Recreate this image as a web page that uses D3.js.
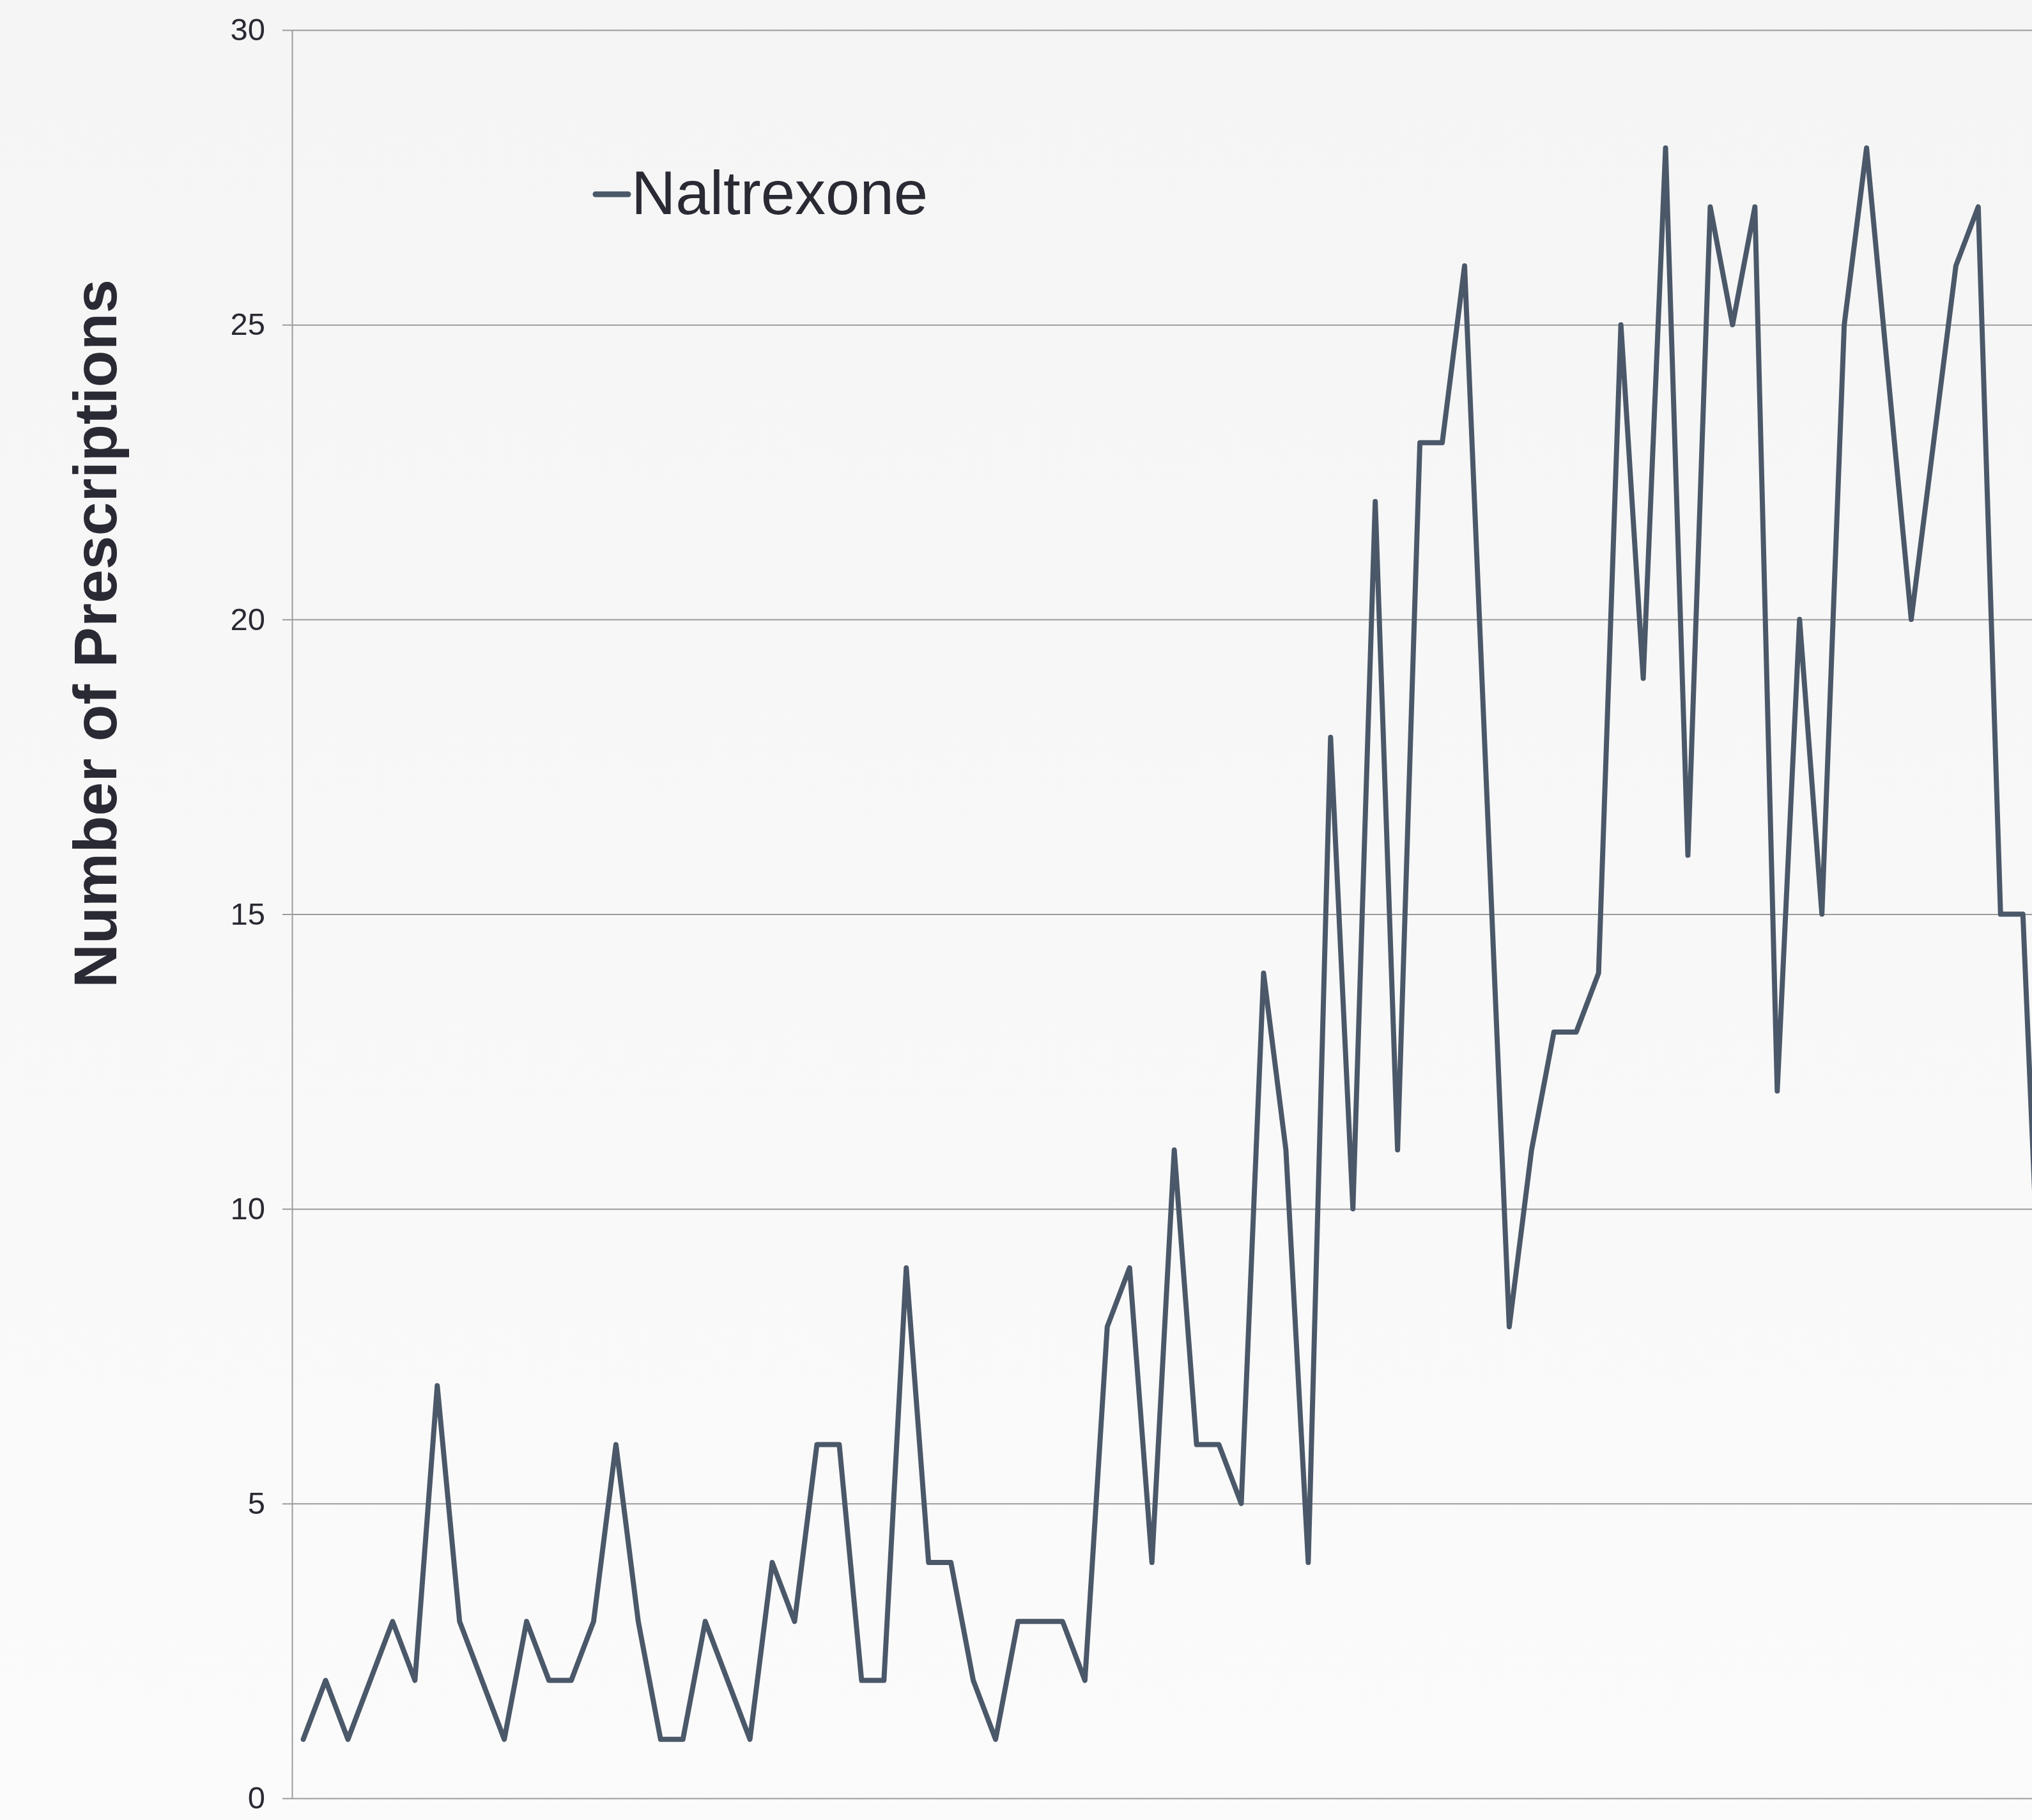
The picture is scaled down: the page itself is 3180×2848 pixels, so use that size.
<!DOCTYPE html>
<html>
<head>
<meta charset="utf-8">
<script src="https://cdn.jsdelivr.net/npm/d3@7"></script>
<style>
  html, body { margin: 0; padding: 0; }
  body { width: 3180px; height: 2848px; overflow: hidden; }
  svg { display: block; }
</style>
</head>
<body>
<svg id="chart" width="3180" height="2848"></svg>
<script>
// Monthly prescription counts for naltrexone, in order
const seriesName = "Naltrexone";
const prescriptions = [
  1, 2, 1, 2, 3, 2, 7, 3, 2, 1,
  3, 2, 2, 3, 6, 3, 1, 1, 3, 2,
  1, 4, 3, 6, 6, 2, 2, 9, 4, 4,
  2, 1, 3, 3, 3, 2, 8, 9, 4, 11,
  6, 6, 5, 14, 11, 4, 18, 10, 22, 11,
  23, 23, 26, 17, 8, 11, 13, 13, 14, 25,
  19, 28, 16, 27, 25, 27, 12, 20, 15, 25,
  28, 24, 20, 23, 26, 27, 15, 15, 6
];
const yTicks = [0, 5, 10, 15, 20, 25, 30];
const yTitle = "Number of Prescriptions";

const W = 3180, H = 2848;
const axisX = 457, plotTop = 47, plotBottom = 2814;
const firstX = 474.6, stepX = 34.95;
const lineColor = "#4b5869";
const textColor = "#292a33";
const gridColor = "#9b9b9b";

const svg = d3.select("#chart");

// soft vertical background wash
const defs = svg.append("defs");
const grad = defs.append("linearGradient")
  .attr("id", "bg").attr("x1", 0).attr("y1", 0).attr("x2", 0).attr("y2", 1);
grad.append("stop").attr("offset", "0%").attr("stop-color", "#f5f5f5");
grad.append("stop").attr("offset", "100%").attr("stop-color", "#fbfbfb");
svg.append("rect").attr("width", W).attr("height", H).attr("fill", "url(#bg)");

defs.append("clipPath").attr("id", "plot-clip")
  .append("rect").attr("x", axisX).attr("y", 0).attr("width", W - axisX).attr("height", H);

const x = d3.scaleLinear()
  .domain([0, prescriptions.length - 1])
  .range([firstX, firstX + stepX * (prescriptions.length - 1)]);

const y = d3.scaleLinear()
  .domain([0, 30])
  .range([plotBottom, plotTop]);

// horizontal grid lines
const grid = svg.append("g")
  .attr("transform", `translate(${axisX},0)`)
  .call(d3.axisLeft(y).tickValues(yTicks).tickSize(-(W - axisX)).tickFormat(""));
grid.select(".domain").remove();
grid.selectAll(".tick line").attr("stroke", gridColor).attr("stroke-width", 2);

// left axis with outward ticks and labels
const yAxis = svg.append("g")
  .attr("transform", `translate(${axisX},0)`)
  .call(d3.axisLeft(y).tickValues(yTicks).tickSize(15).tickSizeOuter(0).tickPadding(27));
yAxis.select(".domain").attr("stroke", gridColor).attr("stroke-width", 2);
yAxis.selectAll(".tick line").attr("stroke", gridColor).attr("stroke-width", 2);
yAxis.selectAll(".tick text")
  .attr("fill", textColor)
  .style("font-family", "'Liberation Sans', Arial, sans-serif")
  .style("font-size", "49px");

// axis title
svg.append("text")
  .attr("transform", `translate(181.5, 991.5) rotate(-90)`)
  .attr("text-anchor", "middle")
  .attr("fill", textColor)
  .style("font-family", "'Liberation Sans', Arial, sans-serif")
  .style("font-weight", "bold")
  .style("font-size", "95px")
  .text(yTitle);

// the series line
const line = d3.line()
  .x((d, i) => x(i))
  .y(d => y(d));

svg.append("g").attr("clip-path", "url(#plot-clip)")
  .append("path")
  .datum(prescriptions)
  .attr("d", line)
  .attr("fill", "none")
  .attr("stroke", lineColor)
  .attr("stroke-width", 8)
  .attr("stroke-linejoin", "round")
  .attr("stroke-linecap", "round");

// legend
const legend = svg.append("g").attr("transform", "translate(932, 304)");
legend.append("line")
  .attr("x1", 0).attr("x2", 51).attr("y1", 0).attr("y2", 0)
  .attr("stroke", lineColor).attr("stroke-width", 9).attr("stroke-linecap", "round");
legend.append("text")
  .attr("x", 56).attr("y", 31)
  .attr("fill", textColor)
  .style("font-family", "'Liberation Sans', Arial, sans-serif")
  .style("font-size", "96px")
  .text(seriesName);
</script>
</body>
</html>
